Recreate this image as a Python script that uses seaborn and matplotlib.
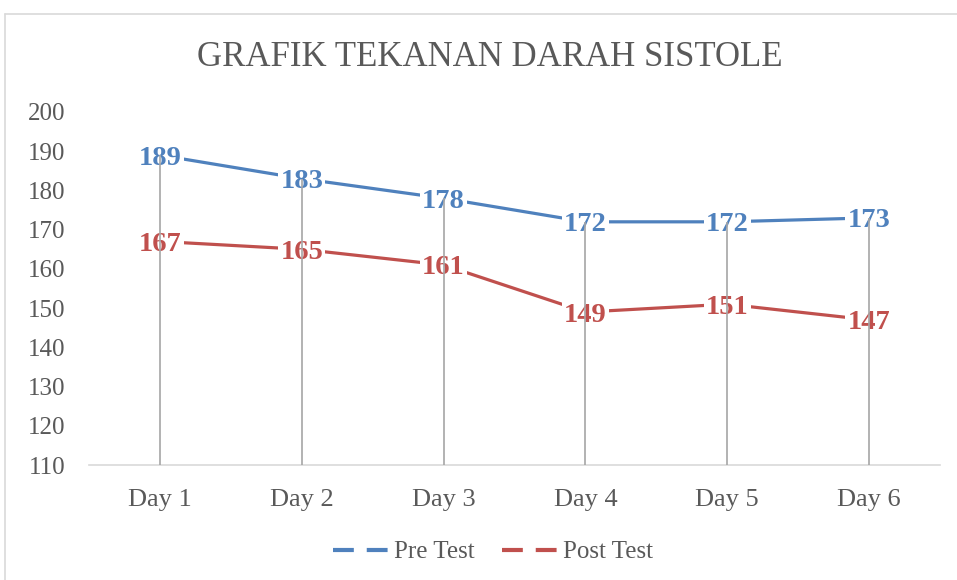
import matplotlib
matplotlib.use("Agg")
import matplotlib.pyplot as plt
from matplotlib.lines import Line2D
import seaborn as sns
import pandas as pd

days = ["Day 1", "Day 2", "Day 3", "Day 4", "Day 5", "Day 6"]
pre_test = [189, 183, 178, 172, 172, 173]
post_test = [167, 165, 161, 149, 151, 147]
series_names = ["Pre Test", "Post Test"]
y_ticks = [110, 120, 130, 140, 150, 160, 170, 180, 190, 200]
title = "GRAFIK TEKANAN DARAH SISTOLE"

colors = {"Pre Test": "#4F81BD", "Post Test": "#C0504D"}

df = pd.DataFrame({
    "day": days * 2,
    "value": pre_test + post_test,
    "series": ["Pre Test"] * len(days) + ["Post Test"] * len(days),
})

sns.set_theme(style="white")
plt.rcParams["font.family"] = ["Liberation Serif", "DejaVu Serif"]

fig = plt.figure(figsize=(9.57, 5.8), dpi=100)
ax = fig.add_axes([89/957, 1-465/580, (940-89)/957, (465-112)/580])

sns.lineplot(data=df, x="day", y="value", hue="series", palette=colors,
             sort=False, linewidth=2.3, ax=ax, legend=False, zorder=2)
for line in ax.lines:
    line.set_solid_capstyle("round")
    line.set_clip_on(False)

ax.set_xlim(-0.5, len(days) - 0.5)
ax.set_ylim(y_ticks[0], y_ticks[-1])
ax.set_yticks(y_ticks)
ax.set_xticks(range(len(days)))
ax.set_xticklabels(days)
ax.set_xlabel("")
ax.set_ylabel("")

# drop lines
tops = [max(a, b) for a, b in zip(pre_test, post_test)]
ax.vlines(range(len(days)), y_ticks[0], tops, colors="#A6A6A6", linewidth=1.2, zorder=5)

# data labels
for name, vals in zip(series_names, [pre_test, post_test]):
    for i, v in enumerate(vals):
        ax.text(i, v, str(v), ha="center", va="center_baseline", fontsize=20.5,
                fontweight="bold", color=colors[name], zorder=4,
                bbox=dict(boxstyle="square,pad=0.08", facecolor="white", edgecolor="none"))

for s in ["left", "right", "top"]:
    ax.spines[s].set_visible(False)
ax.spines["bottom"].set_color("#D9D9D9")
ax.spines["bottom"].set_linewidth(1.2)
ax.tick_params(axis="y", length=0, pad=17, labelsize=18, labelcolor="#595959")
ax.tick_params(axis="x", length=0, pad=17, labelsize=19, labelcolor="#595959")
ax.grid(False)

fig.text(490/957, 1 - 58/580, title, ha="center", va="center",
         fontsize=25, color="#595959")

handles = [Line2D([0], [0], color=colors[n], linewidth=3, linestyle=(0, (5.0, 3.1)),
                  solid_capstyle="butt") for n in series_names]
fig.legend(handles, series_names, loc="center", bbox_to_anchor=(493/957, 1 - 552/580),
           ncol=2, frameon=False, fontsize=18, handlelength=2.2, handletextpad=0.25,
           columnspacing=1.1, labelcolor="#595959")

# outer chart border (partially visible)
border_kw = dict(color="#D9D9D9", linewidth=1.2, transform=fig.transFigure)
fig.add_artist(Line2D([5/957, 1.0], [1 - 14/580, 1 - 14/580], **border_kw))
fig.add_artist(Line2D([5/957, 5/957], [0.0, 1 - 14/580], **border_kw))

fig.savefig("out.png", dpi=100, facecolor="white")
